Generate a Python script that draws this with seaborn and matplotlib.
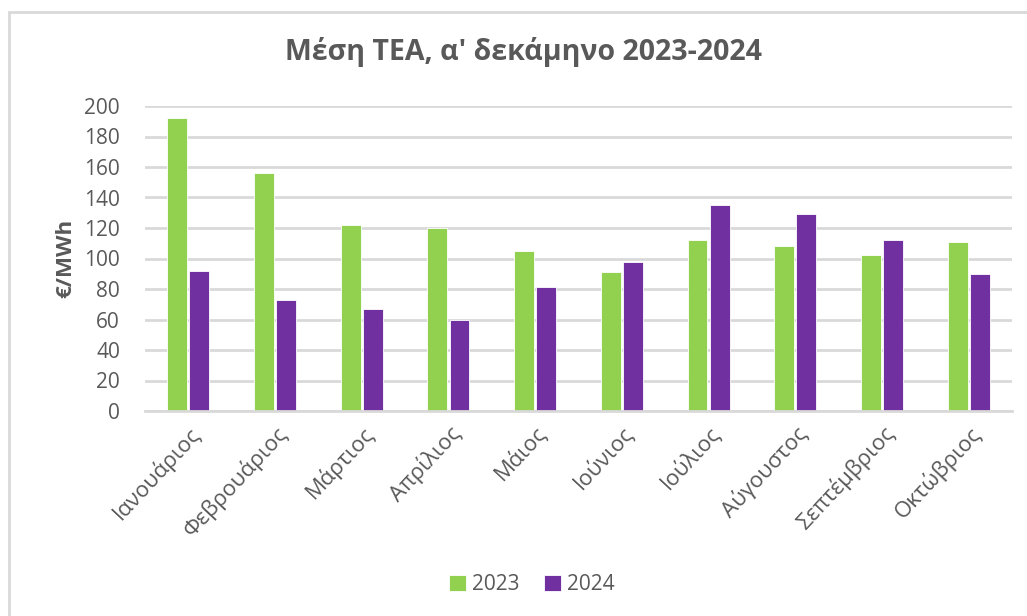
import matplotlib
matplotlib.use("Agg")
import matplotlib.pyplot as plt
import pandas as pd
import seaborn as sns
from matplotlib.patches import Rectangle

months = [
	"Ιανουάριος", "Φεβρουάριος", "Μάρτιος", "Απρίλιος", "Μάιος",
	"Ιούνιος", "Ιούλιος", "Αύγουστος", "Σεπτέμβριος", "Οκτώβριος",
]
values_2023 = [192, 156, 122, 120, 105, 91, 112, 108, 102, 111]
values_2024 = [92, 73, 67, 60, 81, 98, 135, 129, 112, 90]
years = ["2023", "2024"]
yticks = [0, 20, 40, 60, 80, 100, 120, 140, 160, 180, 200]

colors = {"2023": "#92D050", "2024": "#7030A0"}
text_color = "#595959"

df = pd.DataFrame({
	"month": months * 2,
	"value": values_2023 + values_2024,
	"year": [years[0]] * len(months) + [years[1]] * len(months),
})

sns.set_theme(style="white")
plt.rcParams["font.family"] = ["Open Sans", "DejaVu Sans"]

fig = plt.figure(figsize=(10.27, 6.16), dpi=100)
ax = fig.add_axes([145 / 1027, 1 - 411 / 616, 867 / 1027, 305 / 616])

sns.barplot(
	data=df,
	x="month",
	y="value",
	hue="year",
	palette=colors,
	saturation=1,
	width=0.51,
	gap=0.1,
	edgecolor="white",
	linewidth=0.6,
	ax=ax,
)

ax.set_ylim(0, 200)
ax.set_yticks(yticks)
ax.yaxis.grid(True, color="#D9D9D9", linewidth=2)
ax.set_axisbelow(True)
for side in ["top", "right", "left"]:
	ax.spines[side].set_visible(False)
ax.spines["bottom"].set_color("#D9D9D9")
ax.spines["bottom"].set_linewidth(2)
ax.tick_params(axis="y", colors=text_color, labelsize=15, length=0, pad=18)
ax.tick_params(axis="x", colors=text_color, labelsize=16, length=0, pad=8)
plt.setp(ax.get_xticklabels(), rotation=47, ha="right", rotation_mode="anchor")

ax.set_xlabel("")
ax.set_ylabel("€/MWh", fontsize=16, fontweight="bold", color=text_color, labelpad=6)

fig.text(0.51, 1 - 52 / 616, "Μέση ΤΕΑ, α' δεκάμηνο 2023-2024",
	ha="center", va="center", fontsize=20.5, fontweight="bold", color=text_color)

ax.legend(
	loc="center",
	bbox_to_anchor=(0.518, 1 - 585 / 616),
	bbox_transform=fig.transFigure,
	ncol=2,
	frameon=False,
	fontsize=15,
	labelcolor=text_color,
	handlelength=0.8,
	handleheight=0.8,
	handletextpad=0.3,
	columnspacing=1.2,
)

fig.patches.append(Rectangle(
	(9 / 1027, -0.05), 1.2, 1 - 12 / 616 + 0.05,
	transform=fig.transFigure, fill=False, edgecolor="#D9D9D9", linewidth=2,
))

fig.savefig("out.png", dpi=100)
